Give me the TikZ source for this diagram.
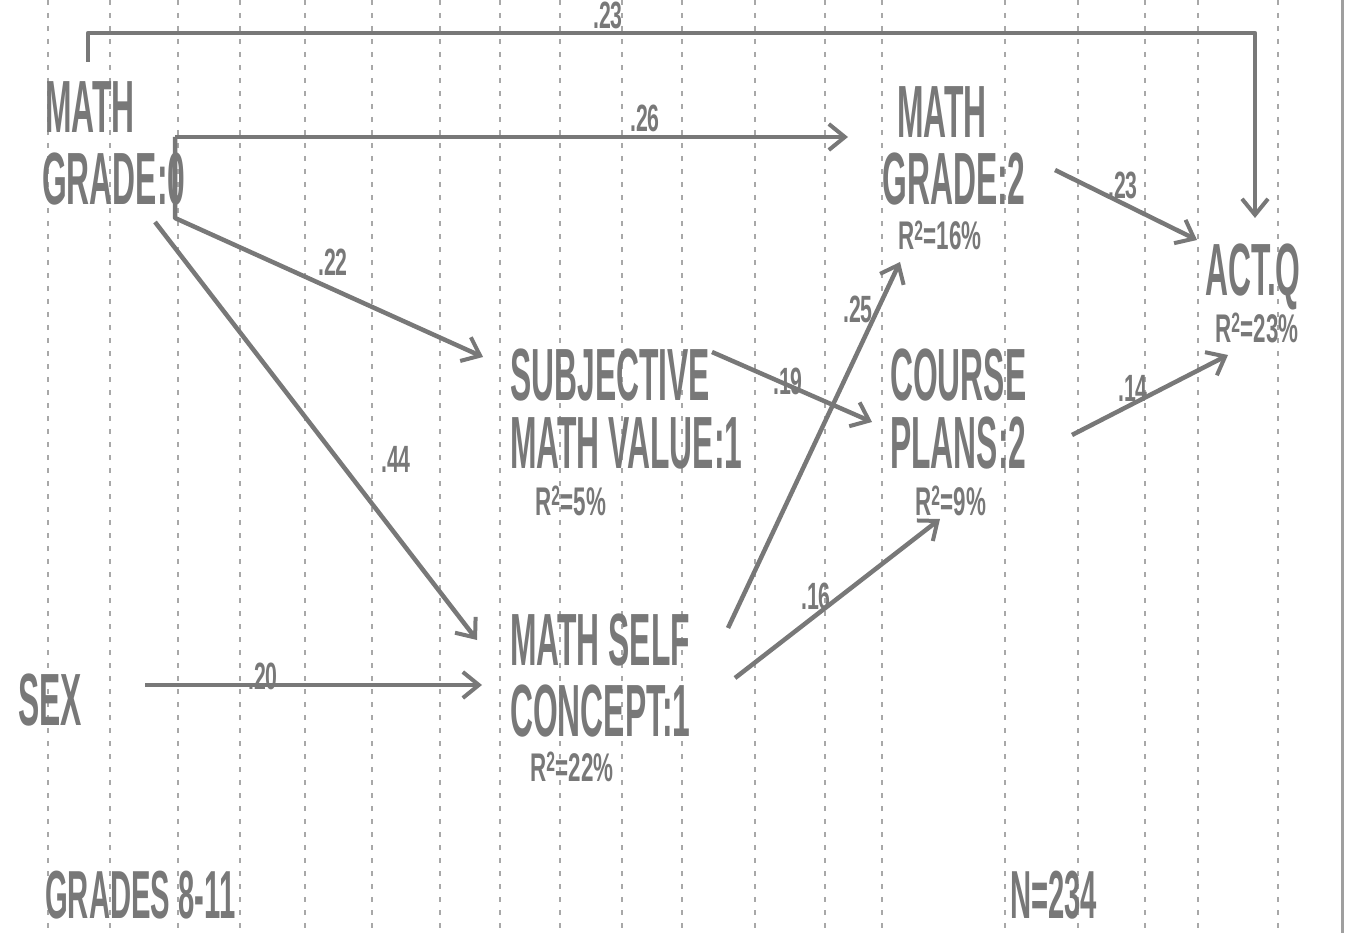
\documentclass[tikz,border=0pt]{standalone}
\usepackage{fontspec}
\setmainfont{Liberation Sans}
\newfontfamily\hand[FakeStretch=0.43]{Liberation Sans}
\newfontfamily\handw[FakeStretch=0.56]{Liberation Sans}
\usetikzlibrary{arrows.meta}
\definecolor{ink}{gray}{0.47}
\definecolor{gridc}{gray}{0.66}
\tikzset{
  big/.style={inner sep=0, text=ink, anchor=base west, font=\hand\bfseries\fontsize{74}{74}\selectfont},
  bigc/.style={big, anchor=base},
  rsq/.style={inner sep=0, text=ink, anchor=base west, font=\handw\bfseries\fontsize{40}{40}\selectfont},
  lab/.style={inner sep=0, text=ink, anchor=base west, font=\handw\bfseries\fontsize{38}{38}\selectfont},
  foot/.style={inner sep=0, text=ink, anchor=base west, font=\hand\bfseries\fontsize{68}{68}\selectfont},
  arr/.style={draw=ink, line width=4.5pt, line join=round,
    -{Straight Barb[length=16pt,width=26pt,line width=4pt]}},
  gridline/.style={draw=gridc, line width=1.8pt, dash pattern=on 5pt off 8pt},
}
\begin{document}
\begin{tikzpicture}[x=1pt,y=-1pt]
\useasboundingbox (0,0) rectangle (1349,933);
% faint scanned grid
\foreach \gx in {48,110,178,240,305,372,440,500,560,622,682,755,825,882,1005,1078,1145,1198,1278}
  \draw[gridline] (\gx,0) -- (\gx,933);
\draw[draw=gray!75, line width=3pt] (1342,0) -- (1342,933);

% nodes
\node[big] (mgA) at (45,133) {MATH};
\node[big] (mgB) at (42,205) {GRADE:0};
\node[bigc] (mtA) at (942,138) {MATH};
\node[bigc] (mtB) at (954,205) {GRADE:2};
\node[rsq] (mtR) at (898,250) {R\textsuperscript{2}=16\%};
\node[big] (act) at (1205,295) {ACT.Q};
\node[rsq] (actR) at (1215,342) {R\textsuperscript{2}=23\%};
\node[big] (svA) at (510,400) {SUBJECTIVE};
\node[big] (svB) at (510,468) {MATH VALUE:1};
\node[rsq] (svR) at (535,515) {R\textsuperscript{2}=5\%};
\node[big] (cpA) at (890,400) {COURSE};
\node[big] (cpB) at (890,468) {PLANS:2};
\node[rsq] (cpR) at (915,515) {R\textsuperscript{2}=9\%};
\node[big] (scA) at (510,665) {MATH SELF};
\node[big] (scB) at (510,736) {CONCEPT:1};
\node[rsq] (scR) at (530,781) {R\textsuperscript{2}=22\%};
\node[big] (sex) at (18,725) {SEX};
\node[foot] (grades) at (45,918) {GRADES 8-11};
\node[foot] (nn) at (1010,918) {N=234};

% path coefficients
\node[lab] (l23a) at (593,29) {.23};
\node[lab] (l26) at (630,132) {.26};
\node[lab] (l22) at (318,276) {.22};
\node[lab] (l44) at (381,472) {.44};
\node[lab] (l20) at (248,689) {.20};
\node[lab] (l19) at (773,394) {.19};
\node[lab] (l25) at (843,322) {.25};
\node[lab] (l16) at (801,609) {.16};
\node[lab] (l23b) at (1108,199) {.23};
\node[lab] (l14) at (1118,401) {.14};

% arrows
\draw[arr] ([shift={(43,-71)}]mgA.base west) -- ++(0,-29) -| ([shift={(50,-77)}]act.base west);
\draw[arr] ([shift={(130,4)}]mgA.base west) -- ([shift={(-94,-1)}]mtA.base);
\draw[arr] ([shift={(133,-68)}]mgB.base west) -- ([shift={(133,13)}]mgB.base west) -- ([shift={(-27,-43)}]svA.base west);
\draw[arr] ([shift={(113,17)}]mgB.base west) -- ([shift={(-33,-25)}]scA.base west);
\draw[arr] ([shift={(127,-40)}]sex.base west) -- ([shift={(-28,-51)}]scB.base west);
\draw[arr] ([shift={(202,-48)}]svA.base west) -- ([shift={(-18,-46)}]cpB.base west);
\draw[arr] ([shift={(218,-37)}]scA.base west) -- ([shift={(2,12)}]mtR.base west);
\draw[arr] ([shift={(225,-58)}]scB.base west) -- ([shift={(25,4)}]cpR.base west);
\draw[arr] ([shift={(101,-35)}]mtB.base) -- ([shift={(-8,-55)}]act.base west);
\draw[arr] ([shift={(182,-33)}]cpB.base west) -- ([shift={(13,13)}]actR.base west);
\end{tikzpicture}
\end{document}
